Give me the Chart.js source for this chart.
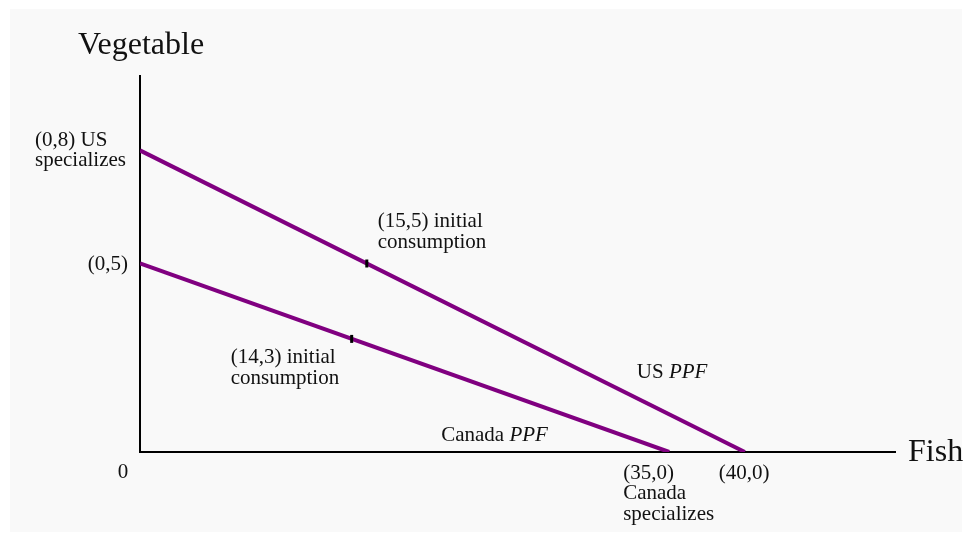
<!DOCTYPE html>
<html>
<head>
<meta charset="utf-8">
<script src="https://cdn.jsdelivr.net/npm/chart.js@4/dist/chart.umd.min.js"></script>
<style>
  html, body { margin: 0; padding: 0; background: #fff; }
  #panel { position: absolute; left: 10px; top: 9px; width: 952px; height: 523px; background: #f9f9f9; }
  #ppf { position: absolute; left: 0; top: 0; }
</style>
</head>
<body>
<div id="panel"></div>
<canvas id="ppf" width="972" height="542"></canvas>
<script>
// production possibilities (fish, vegetable)
const usFish = [0, 40];
const usVeg = [8, 0];
const canadaFish = [0, 35];
const canadaVeg = [5, 0];
const consumptionFish = [15, 14];
const consumptionVeg = [5, 3];
const xMax = 50;
const yMax = 10;

const purple = '#800080';
const serif = '"Liberation Serif", "DejaVu Serif", serif';

// text notes: anchored to a data point, nudged in pixels
const notes = [
  { x: 0, y: 10, dx: 1, dy: -29, lines: ['Vegetable'], size: 32, align: 'center' },
  { x: 50, y: 0, dx: 12, dy: 1, lines: ['Fish'], size: 32, align: 'left' },
  { x: 0, y: 0, dx: -17, dy: 20, lines: ['0'], size: 21, align: 'center' },
  { x: 0, y: 8, dx: -105, dy: -10, lines: ['(0,8) US', 'specializes'], size: 21, align: 'left' },
  { x: 0, y: 5, dx: -12, dy: 1, lines: ['(0,5)'], size: 21, align: 'right' },
  { x: 15, y: 5, dx: 11, dy: -42, lines: ['(15,5) initial', 'consumption'], size: 21, align: 'left' },
  { x: 14, y: 3, dx: -121, dy: 19, lines: ['(14,3) initial', 'consumption'], size: 21, align: 'left' },
  { x: 35, y: 0, dx: -46, dy: 21, lines: ['(35,0)', 'Canada', 'specializes'], size: 21, align: 'left' },
  { x: 40, y: 0, dx: -26, dy: 21, lines: ['(40,0)'], size: 21, align: 'left' }
];
const ppfNotes = [
  { x: 35, y: 0, dx: -228, dy: -17, name: 'Canada' },
  { x: 40, y: 0, dx: -108, dy: -80, name: 'US' }
];

const toPoints = (xs, ys) => xs.map((v, i) => ({ x: v, y: ys[i] }));

const axesAndText = {
  id: 'axesAndText',
  beforeDatasetsDraw(chart) {
    const { ctx, chartArea: a } = chart;
    ctx.save();
    ctx.strokeStyle = '#000';
    ctx.lineWidth = 2;
    ctx.beginPath();
    ctx.moveTo(a.left, a.top);
    ctx.lineTo(a.left, a.bottom);
    ctx.lineTo(a.right, a.bottom);
    ctx.stroke();
    ctx.restore();
  },
  afterDraw(chart) {
    const { ctx, scales: { x, y } } = chart;
    ctx.save();
    ctx.fillStyle = '#111';
    ctx.textBaseline = 'middle';
    notes.forEach(n => {
      const px = x.getPixelForValue(n.x) + n.dx;
      const py = y.getPixelForValue(n.y) + n.dy;
      ctx.font = n.size + 'px ' + serif;
      ctx.textAlign = n.align;
      const lh = n.size * 0.98;
      n.lines.forEach((t, i) => ctx.fillText(t, px, py + i * lh));
    });
    ctx.textAlign = 'left';
    ppfNotes.forEach(n => {
      const px = x.getPixelForValue(n.x) + n.dx;
      const py = y.getPixelForValue(n.y) + n.dy;
      ctx.font = '21px ' + serif;
      const lead = n.name + ' ';
      ctx.fillText(lead, px, py);
      const w = ctx.measureText(lead).width;
      ctx.font = 'italic 21px ' + serif;
      ctx.fillText('PPF', px + w, py);
    });
    ctx.restore();
  }
};

new Chart(document.getElementById('ppf'), {
  type: 'scatter',
  data: {
    datasets: [
      {
        label: 'US PPF',
        data: toPoints(usFish, usVeg),
        showLine: true,
        borderColor: purple,
        borderWidth: 4,
        pointRadius: 0,
        order: 2
      },
      {
        label: 'Canada PPF',
        data: toPoints(canadaFish, canadaVeg),
        showLine: true,
        borderColor: purple,
        borderWidth: 4,
        pointRadius: 0,
        order: 2
      },
      {
        label: 'Initial consumption',
        data: toPoints(consumptionFish, consumptionVeg),
        showLine: false,
        pointStyle: 'line',
        rotation: 90,
        pointRadius: 4,
        borderColor: '#000',
        borderWidth: 3,
        order: 1
      }
    ]
  },
  options: {
    responsive: false,
    animation: false,
    devicePixelRatio: 1,
    layout: { padding: { left: 140, right: 76, top: 75, bottom: 90 } },
    plugins: { legend: { display: false }, tooltip: { enabled: false } },
    scales: {
      x: { type: 'linear', min: 0, max: xMax, display: false },
      y: { type: 'linear', min: 0, max: yMax, display: false }
    }
  },
  plugins: [axesAndText]
});
</script>
</body>
</html>
